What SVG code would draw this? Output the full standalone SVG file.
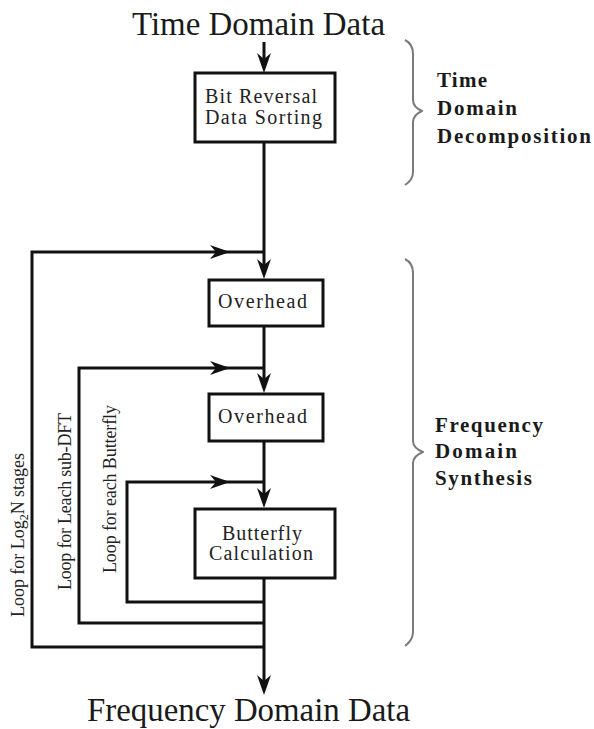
<svg xmlns="http://www.w3.org/2000/svg" width="594" height="729" viewBox="0 0 594 729">
  <style>
    .box { fill: #ffffff; stroke: #111111; stroke-width: 3; }
    .wire { fill: none; stroke: #111111; stroke-width: 3; stroke-linejoin: miter; stroke-linecap: butt; }
    .brace { fill: none; stroke: #7a7a7a; stroke-width: 2; stroke-linejoin: round; }
    .head { fill: #111111; }
    .title { font-family: "Liberation Serif", "Times New Roman", serif; font-size: 33px; fill: #1a1a1a; }
    .lbl { font-family: "Liberation Serif", "Times New Roman", serif; font-size: 20px; fill: #222222; }
    .loop { font-family: "Liberation Serif", "Times New Roman", serif; font-size: 18px; fill: #222222; }
    .side { font-family: "Liberation Serif", "Times New Roman", serif; font-size: 21px; font-weight: bold; fill: #1a1a1a; }
  </style>
  <defs>
    <!-- notched arrowhead, tip at the origin, pointing along +x -->
    <path id="arrow" class="head" d="M0,0 L-20,-7 L-14,0 L-20,7 Z"/>
  </defs>

  <rect width="594" height="729" fill="#ffffff"/>

  <!-- terminal labels -->
  <g id="time-data">
    <text class="title" x="132" y="35" textLength="253" lengthAdjust="spacingAndGlyphs">Time Domain Data</text>
  </g>
  <g id="freq-data">
    <text class="title" x="87" y="721" textLength="323" lengthAdjust="spacingAndGlyphs">Frequency Domain Data</text>
  </g>

  <!-- connectors -->
  <g id="connectors">
    <!-- main data path -->
    <line class="wire" x1="264" y1="42" x2="264" y2="64"/>
    <line class="wire" x1="264" y1="142" x2="264" y2="270"/>
    <line class="wire" x1="264" y1="326" x2="264" y2="384"/>
    <line class="wire" x1="264" y1="441" x2="264" y2="499"/>
    <line class="wire" x1="264" y1="578" x2="264" y2="686"/>

    <!-- loop for log2N stages -->
    <polyline class="wire" points="264,647 32,647 32,252 264,252"/>
    <!-- loop for each sub-DFT -->
    <polyline class="wire" points="264,623 79,623 79,368 264,368"/>
    <!-- loop for each butterfly -->
    <polyline class="wire" points="264,602 127,602 127,482 264,482"/>

    <!-- downward arrowheads -->
    <use href="#arrow" transform="translate(264,73) rotate(90)"/>
    <use href="#arrow" transform="translate(264,279) rotate(90)"/>
    <use href="#arrow" transform="translate(264,393) rotate(90)"/>
    <use href="#arrow" transform="translate(264,508) rotate(90)"/>
    <use href="#arrow" transform="translate(264,695) rotate(90)"/>

    <!-- loop-back arrowheads -->
    <use href="#arrow" transform="translate(230,252)"/>
    <use href="#arrow" transform="translate(230,368)"/>
    <use href="#arrow" transform="translate(230,482)"/>
  </g>

  <!-- processing blocks -->
  <g id="bit-reversal">
    <rect class="box" x="195" y="73" width="140" height="69"/>
    <text class="lbl" x="205" y="103" textLength="112" lengthAdjust="spacing">Bit Reversal</text>
    <text class="lbl" x="205" y="124" textLength="117" lengthAdjust="spacing">Data Sorting</text>
  </g>
  <g id="overhead-stage">
    <rect class="box" x="209" y="280" width="114" height="46"/>
    <text class="lbl" x="218" y="308" textLength="89" lengthAdjust="spacing">Overhead</text>
  </g>
  <g id="overhead-subdft">
    <rect class="box" x="209" y="394" width="114" height="47"/>
    <text class="lbl" x="218" y="423" textLength="89" lengthAdjust="spacing">Overhead</text>
  </g>
  <g id="butterfly">
    <rect class="box" x="195" y="509" width="140" height="69"/>
    <text class="lbl" x="222" y="540" textLength="80" lengthAdjust="spacing">Butterfly</text>
    <text class="lbl" x="209" y="560" textLength="104" lengthAdjust="spacing">Calculation</text>
  </g>

  <!-- loop captions, read bottom to top -->
  <g id="loop-labels">
    <text class="loop" transform="translate(24,617) rotate(-90)" textLength="164" lengthAdjust="spacing">Loop for Log<tspan font-size="12" dy="4">2</tspan><tspan dy="-4">N  stages</tspan></text>
    <text class="loop" transform="translate(71,590) rotate(-90)" textLength="177" lengthAdjust="spacing">Loop for Leach sub-DFT</text>
    <text class="loop" transform="translate(116,573) rotate(-90)" textLength="168" lengthAdjust="spacing">Loop for each Butterfly</text>
  </g>

  <!-- phase braces -->
  <g id="time-decomposition">
    <path class="brace" d="M405,40 Q413,44 413,54 L413,100 Q413,107 422,111 Q413,115 413,122 L413,172 Q413,180 405,185"/>
    <text class="side" x="437" y="87" textLength="50" lengthAdjust="spacing">Time</text>
    <text class="side" x="437" y="115" textLength="80" lengthAdjust="spacing">Domain</text>
    <text class="side" x="437" y="143" textLength="154" lengthAdjust="spacing">Decomposition</text>
  </g>
  <g id="freq-synthesis">
    <path class="brace" d="M405,259 Q413,263 413,273 L413,441 Q413,448 423,452 Q413,456 413,463 L413,632 Q413,640 405,646"/>
    <text class="side" x="435" y="432" textLength="108" lengthAdjust="spacing">Frequency</text>
    <text class="side" x="435" y="458" textLength="82" lengthAdjust="spacing">Domain</text>
    <text class="side" x="435" y="485" textLength="97" lengthAdjust="spacing">Synthesis</text>
  </g>
</svg>
